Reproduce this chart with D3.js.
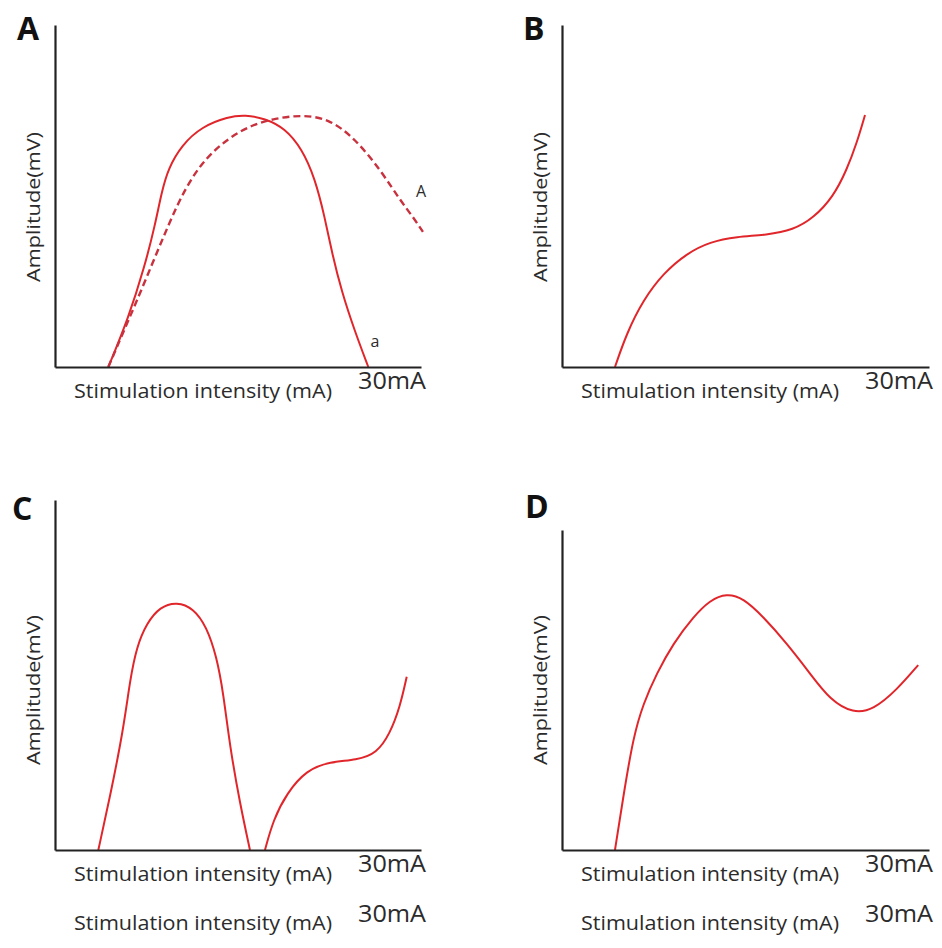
<!DOCTYPE html>
<html>
<head>
<meta charset="utf-8">
<script src="https://cdn.jsdelivr.net/npm/d3@7"></script>
<style>
  html, body { margin: 0; padding: 0; background: #fff; }
  svg { display: block; }
  text { font-family: "Open Sans", "Noto Sans", sans-serif; }
</style>
</head>
<body>
<svg id="fig" width="942" height="948"></svg>
<script>
// Stimulus–response curves: amplitude (arbitrary units 0–10) vs stimulation intensity (0–30 mA)
const panelLetters = ["A", "B", "C", "D"];
const xAxisTitle = "Stimulation intensity (mA)";
const yAxisTitle = "Amplitude(mV)";
const xMaxLabel = "30mA";

// Panel A, curve "a" (solid)
const curveA_small = [
  [4.37, 0], [6.01, 1.42], [7.38, 2.98], [8.20, 4.15], [8.75, 5.13], [9.29, 5.81],
  [10.39, 6.49], [12.03, 7.03], [14.21, 7.32], [15.57, 7.37], [17.21, 7.27],
  [18.85, 6.98], [20.22, 6.39], [21.31, 5.52], [22.13, 4.35], [22.68, 3.37],
  [23.50, 2.20], [24.59, 1.03], [25.68, 0]
];
// Panel A, curve "A" (dashed)
const curveA_large = [
  [4.37, 0], [6.56, 1.81], [7.93, 2.98], [9.29, 4.15], [10.66, 5.23], [12.30, 6.10],
  [14.21, 6.69], [16.12, 7.08], [18.03, 7.27], [20.22, 7.37], [22.40, 7.27],
  [24.59, 6.69], [26.78, 5.71], [28.28, 4.88], [29.34, 4.39], [30.16, 3.95]
];
// Panel B
const curveB = [
  [4.33, 0], [5.29, 0.99], [6.64, 1.96], [8.28, 2.74], [10.19, 3.32], [12.10, 3.66],
  [14.28, 3.81], [16.73, 3.86], [18.91, 4.01], [20.54, 4.35], [22.18, 4.98],
  [23.27, 5.76], [24.09, 6.54], [24.77, 7.37]
];
// Panel C, first hump
const curveC1 = [
  [3.55, 0], [4.51, 1.52], [5.60, 3.43], [6.15, 4.86], [6.70, 5.81], [7.52, 6.48],
  [8.61, 6.95], [9.98, 7.09], [11.34, 6.91], [12.43, 6.38], [13.25, 5.52],
  [13.80, 4.48], [14.34, 2.95], [15.16, 1.33], [15.98, 0]
];
// Panel C, second rise
const curveC2 = [
  [17.21, 0], [17.89, 0.86], [18.99, 1.62], [20.63, 2.29], [22.54, 2.52],
  [24.73, 2.57], [26.37, 2.76], [27.46, 3.33], [28.28, 4.09], [28.83, 4.95]
];
// Panel D
const curveD = [
  [4.33, 0], [5.01, 1.67], [5.83, 3.54], [6.65, 4.58], [7.74, 5.52], [9.10, 6.46],
  [10.74, 7.29], [12.10, 7.81], [13.46, 8.02], [14.82, 7.87], [16.45, 7.29],
  [18.37, 6.46], [20.27, 5.52], [21.91, 4.69], [23.81, 4.27], [25.45, 4.38],
  [27.36, 5.00], [29.12, 5.78]
];

const RED = "#e0262b";
const DASH_RED = "#c8323f";
const AXIS = "#222";
const TEXT = "#2b2b2b";

// Panel frames (pixel boxes for the plotting area)
const panels = [
  { letter: panelLetters[0], x0: 55,  x1: 421, yBase: 367, yTop: 25,  lx: 17,  ly: 40,
    series: [
      { pts: curveA_small, dashed: false, tag: "a", tagAt: [375, 347] },
      { pts: curveA_large, dashed: true,  tag: "A", tagAt: [421, 197] }
    ] },
  { letter: panelLetters[1], x0: 562, x1: 929, yBase: 367, yTop: 25,  lx: 523, ly: 40,
    series: [ { pts: curveB, dashed: false } ] },
  { letter: panelLetters[2], x0: 55,  x1: 421, yBase: 850, yTop: 500, lx: 12,  ly: 520, extraRow: true,
    series: [ { pts: curveC1, dashed: false }, { pts: curveC2, dashed: false } ] },
  { letter: panelLetters[3], x0: 562, x1: 929, yBase: 850, yTop: 530, lx: 525, ly: 518, extraRow: true,
    series: [ { pts: curveD, dashed: false } ] }
];

const svg = d3.select("#fig");

panels.forEach(p => {
  const g = svg.append("g");
  const x = d3.scaleLinear().domain([0, 30]).range([p.x0, p.x1]);
  const y = d3.scaleLinear().domain([0, 10]).range([p.yBase, p.yTop]);

  // B-spline through the sampled points gives the smooth hand-drawn look
  const line = d3.line()
    .x(d => x(d[0]))
    .y(d => y(d[1]))
    .curve(d3.curveBasis);

  p.series.forEach(s => {
    g.append("path")
      .datum(s.pts)
      .attr("d", line)
      .attr("fill", "none")
      .attr("stroke", s.dashed ? DASH_RED : RED)
      .attr("stroke-width", s.dashed ? 2.4 : 2)
      .attr("stroke-dasharray", s.dashed ? "7,4" : null)
      .attr("stroke-linecap", "butt");
    if (s.tag) {
      g.append("text")
        .attr("x", s.tagAt[0]).attr("y", s.tagAt[1])
        .attr("text-anchor", "middle")
        .attr("font-size", 16)
        .attr("fill", TEXT)
        .text(s.tag);
    }
  });

  // Bare axes: domain lines only, no ticks
  const xAxis = d3.axisBottom(x).tickValues([]).tickSizeOuter(0);
  const yAxis = d3.axisLeft(y).tickValues([]).tickSizeOuter(0);
  const gx = g.append("g").attr("transform", `translate(0,${p.yBase})`).call(xAxis);
  const gy = g.append("g").attr("transform", `translate(${p.x0},0)`).call(yAxis);
  [gx, gy].forEach(a => a.select(".domain").attr("stroke", AXIS).attr("stroke-width", 2.2));

  // Panel letter
  g.append("text")
    .attr("x", p.lx).attr("y", p.ly)
    .attr("font-size", 32).attr("font-weight", 700)
    .attr("fill", "#111")
    .text(p.letter);

  // Y axis title
  const yMid = p.yBase - 160;
  g.append("text")
    .attr("transform", `translate(${p.x0 - 15},${yMid}) rotate(-90)`)
    .attr("text-anchor", "middle")
    .attr("font-size", 19)
    .attr("fill", TEXT)
    .attr("textLength", 150).attr("lengthAdjust", "spacingAndGlyphs")
    .text(yAxisTitle);

  // X axis title and end label, repeated one row lower for the bottom panels
  const rows = p.extraRow ? [0, 49] : [0];
  rows.forEach(off => {
    g.append("text")
      .attr("x", p.x0 + 19).attr("y", p.yBase + 31 + off)
      .attr("font-size", 20)
      .attr("fill", TEXT)
      .attr("textLength", 258).attr("lengthAdjust", "spacingAndGlyphs")
      .text(xAxisTitle);
    g.append("text")
      .attr("x", p.x0 + 303).attr("y", p.yBase + 22 + off + (off ? 1 : 0))
      .attr("font-size", 23)
      .attr("fill", TEXT)
      .attr("textLength", 68).attr("lengthAdjust", "spacingAndGlyphs")
      .text(xMaxLabel);
  });
});
</script>
</body>
</html>
